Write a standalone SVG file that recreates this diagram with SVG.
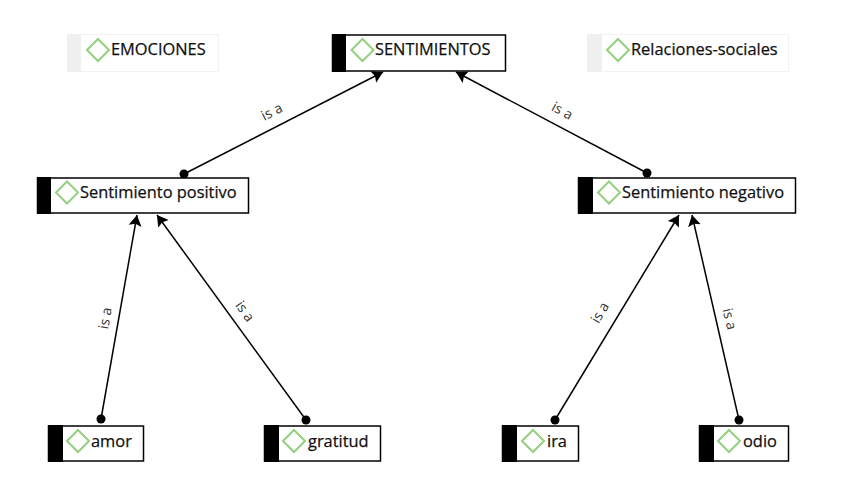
<svg xmlns="http://www.w3.org/2000/svg" width="847" height="503" viewBox="0 0 847 503">
<style>
.box{fill:#fff;stroke:#000;stroke-width:1.5}
.bar{fill:#000}
.gbar{fill:#f0f0f0}
.gbox{fill:#fff;stroke:#f2f2f2;stroke-width:1}
.dia{fill:#fff;stroke:#93cf7f;stroke-width:2}
text{font-family:"Open Sans","Noto Sans","Liberation Sans",sans-serif;fill:#111}
.t{font-size:16.4px;stroke:#111;stroke-width:.25}
.l{font-size:14px;fill:#333;text-anchor:middle}
.c{stroke:#000;stroke-width:1.5;fill:none;marker-end:url(#arr)}
</style>
<defs>
<marker id="arr" markerUnits="userSpaceOnUse" markerWidth="14" markerHeight="14" refX="11" refY="7" orient="auto"><path d="M0 0.500L11 7L0 13.500L2 7Z" fill="#000"/></marker>
</defs>
<g id="connectors">
<path class="c" d="M184 174L383 72"/><circle cx="184" cy="174" r="4.500"/>
<path class="c" d="M647 173L456 72"/><circle cx="647" cy="173" r="4.500"/>
<path class="c" d="M101 419L137 215"/><circle cx="101" cy="419" r="4.500"/>
<path class="c" d="M306 420L157 215"/><circle cx="306" cy="420" r="4.500"/>
<path class="c" d="M555 420L679 215"/><circle cx="555" cy="420" r="4.500"/>
<path class="c" d="M739 420L692 215"/><circle cx="739" cy="420" r="4.500"/>
<text class="l" transform="translate(274 116) rotate(-27)">is a</text>
<text class="l" transform="translate(560 115) rotate(28)">is a</text>
<text class="l" transform="translate(110 319) rotate(-80)">is a</text>
<text class="l" transform="translate(241 314) rotate(55)">is a</text>
<text class="l" transform="translate(604 315) rotate(-59)">is a</text>
<text class="l" transform="translate(725 320) rotate(77)">is a</text>
</g>
<g id="emociones">
<rect class="gbox" x="67.500" y="34.500" width="151" height="37"/><rect class="gbar" x="67" y="34" width="14" height="38"/>
<path class="dia" d="M98 39L109 50L98 61L87 50Z"/><text class="t" x="111" y="55">EMOCIONES</text>
</g>
<g id="sentimientos">
<rect class="box" x="332.500" y="35" width="173" height="36"/><rect class="bar" x="332" y="34" width="14" height="38"/>
<path class="dia" d="M362.500 39L373.500 50L362.500 61L351.500 50Z"/><text class="t" x="375" y="55">SENTIMIENTOS</text>
</g>
<g id="relaciones">
<rect class="gbox" x="587.500" y="34.500" width="201" height="37"/><rect class="gbar" x="587" y="34" width="15" height="38"/>
<path class="dia" d="M618 39L629 50L618 61L607 50Z"/><text class="t" x="631" y="55">Relaciones-sociales</text>
</g>
<g id="positivo">
<rect class="box" x="37.500" y="178" width="211" height="35"/><rect class="bar" x="37" y="177" width="14" height="37"/>
<path class="dia" d="M67 181.500L78 192.500L67 203.500L56 192.500Z"/><text class="t" x="80" y="198">Sentimiento positivo</text>
</g>
<g id="negativo">
<rect class="box" x="578.500" y="178" width="217" height="35"/><rect class="bar" x="578" y="177" width="15" height="37"/>
<path class="dia" d="M609 181.500L620 192.500L609 203.500L598 192.500Z"/><text class="t" x="622" y="198">Sentimiento negativo</text>
</g>
<g id="amor">
<rect class="box" x="48.500" y="426" width="95" height="35"/><rect class="bar" x="48" y="425" width="15" height="37"/>
<path class="dia" d="M78 430L89 441L78 452L67 441Z"/><text class="t" x="91" y="447">amor</text>
</g>
<g id="gratitud">
<rect class="box" x="264.500" y="426" width="116" height="35"/><rect class="bar" x="264" y="425" width="15" height="37"/>
<path class="dia" d="M294 430L305 441L294 452L283 441Z"/><text class="t" x="308" y="447">gratitud</text>
</g>
<g id="ira">
<rect class="box" x="502.500" y="426" width="76" height="35"/><rect class="bar" x="502" y="425" width="15" height="37"/>
<path class="dia" d="M533 430L544 441L533 452L522 441Z"/><text class="t" x="547" y="447">ira</text>
</g>
<g id="odio">
<rect class="box" x="699.500" y="426" width="89" height="35"/><rect class="bar" x="699" y="425" width="15" height="37"/>
<path class="dia" d="M729 430L740 441L729 452L718 441Z"/><text class="t" x="743" y="447">odio</text>
</g>
</svg>
